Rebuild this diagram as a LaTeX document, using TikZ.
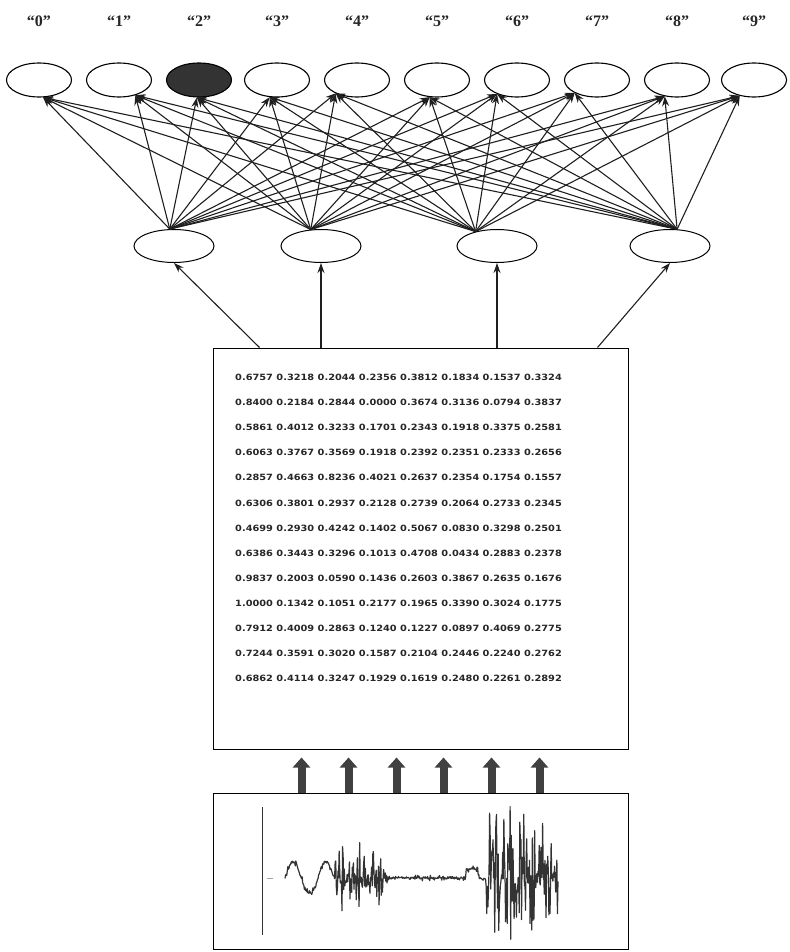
\documentclass[tikz,border=0pt]{standalone}
\usepackage{fontspec}
\usetikzlibrary{arrows.meta,shapes.geometric}
\newfontfamily\labfont{Liberation Serif}
\newfontfamily\numfont[FakeStretch=1.14]{DejaVu Sans}

\begin{document}
\begin{tikzpicture}[x=1pt,y=-1pt,
    label distance=32pt,
    every label/.style={font=\labfont\bfseries\fontsize{16}{19}\selectfont,text=black!85},
    outnode/.style={draw,ellipse,line width=1.1pt,inner sep=0pt,minimum width=65pt,minimum height=34pt},
    hidnode/.style={draw,ellipse,line width=1pt,inner sep=0pt,minimum width=80pt,minimum height=33pt},
    box/.style={draw,rectangle,line width=1pt,inner sep=0pt,minimum width=415pt},
    wire/.style={-{Stealth[length=10pt,width=7pt]},line width=1.1pt,black!88},
    fat/.style={-{Triangle[length=10pt,width=17pt]},line width=8pt,black!75,shorten >=8pt},
    numtab/.style={align=left,inner sep=0pt,font=\numfont\bfseries\fontsize{8.6}{25.1}\selectfont,text=black!85},
    declare function={
      env(\t)=(\t<335)*5+and(\t>335,\t<388)*40+and(\t>388,\t<468)*3+and(\t>468,\t<486)*5+(\t>486)*(84-0.7*abs(\t-505));
      slow(\t)=(\t<335)*(-16)*sin((\t-285)*11)+and(\t>466,\t<478)*(-9);
    }]
  \useasboundingbox (0,0) rectangle (789,952);

  \node[outnode,label=above:{“0”}] (O0) at (39,80) {};
  \node[outnode,label=above:{“1”}] (O1) at (119,80) {};
  \node[outnode,fill=black!80,label=above:{“2”}] (O2) at (199,80) {};
  \node[outnode,label=above:{“3”}] (O3) at (277,80) {};
  \node[outnode,label=above:{“4”}] (O4) at (357,80) {};
  \node[outnode,label=above:{“5”}] (O5) at (437,80) {};
  \node[outnode,label=above:{“6”}] (O6) at (517,80) {};
  \node[outnode,label=above:{“7”}] (O7) at (597,80) {};
  \node[outnode,label=above:{“8”}] (O8) at (677,80) {};
  \node[outnode,label=above:{“9”}] (O9) at (754,80) {};

  \node[hidnode] (H1) at (174,246) {};
  \node[hidnode] (H2) at (321,246) {};
  \node[hidnode] (H3) at (497,246) {};
  \node[hidnode] (H4) at (670,246) {};

  \node[box,minimum height=401pt] (Feat) at (420.5,548.5) {};
  \node[box,minimum height=156pt] (Wave) at (420.5,871) {};

  \node[numtab,anchor=north west] (Tab) at (235,374) {%
    0.6757 0.3218 0.2044 0.2356 0.3812 0.1834 0.1537 0.3324\\
    0.8400 0.2184 0.2844 0.0000 0.3674 0.3136 0.0794 0.3837\\
    0.5861 0.4012 0.3233 0.1701 0.2343 0.1918 0.3375 0.2581\\
    0.6063 0.3767 0.3569 0.1918 0.2392 0.2351 0.2333 0.2656\\
    0.2857 0.4663 0.8236 0.4021 0.2637 0.2354 0.1754 0.1557\\
    0.6306 0.3801 0.2937 0.2128 0.2739 0.2064 0.2733 0.2345\\
    0.4699 0.2930 0.4242 0.1402 0.5067 0.0830 0.3298 0.2501\\
    0.6386 0.3443 0.3296 0.1013 0.4708 0.0434 0.2883 0.2378\\
    0.9837 0.2003 0.0590 0.1436 0.2603 0.3867 0.2635 0.1676\\
    1.0000 0.1342 0.1051 0.2177 0.1965 0.3390 0.3024 0.1775\\
    0.7912 0.4009 0.2863 0.1240 0.1227 0.0897 0.4069 0.2775\\
    0.7244 0.3591 0.3020 0.1587 0.2104 0.2446 0.2240 0.2762\\
    0.6862 0.4114 0.3247 0.1929 0.1619 0.2480 0.2261 0.2892};

  \draw[wire] (H1.104)--(O0.283);
  \draw[wire] (H1.104)--(O1.317);
  \draw[wire] (H1.104)--(O2.263);
  \draw[wire] (H1.104)--(O3.247);
  \draw[wire] (H1.104)--(O4.212);
  \draw[wire] (H1.104)--(O5.247);
  \draw[wire] (H1.104)--(O6.215);
  \draw[wire] (H1.104)--(O7.210);
  \draw[wire] (H1.104)--(O8.233);
  \draw[wire] (H1.104)--(O9.228);
  \draw[wire] (H2.122)--(O0.283);
  \draw[wire] (H2.122)--(O1.317);
  \draw[wire] (H2.122)--(O2.263);
  \draw[wire] (H2.122)--(O3.247);
  \draw[wire] (H2.122)--(O4.212);
  \draw[wire] (H2.122)--(O5.247);
  \draw[wire] (H2.122)--(O6.215);
  \draw[wire] (H2.122)--(O7.210);
  \draw[wire] (H2.122)--(O8.233);
  \draw[wire] (H2.122)--(O9.228);
  \draw[wire] (H3.146)--(O0.283);
  \draw[wire] (H3.146)--(O1.317);
  \draw[wire] (H3.146)--(O2.263);
  \draw[wire] (H3.146)--(O3.247);
  \draw[wire] (H3.146)--(O4.212);
  \draw[wire] (H3.146)--(O5.247);
  \draw[wire] (H3.146)--(O6.215);
  \draw[wire] (H3.146)--(O7.210);
  \draw[wire] (H3.146)--(O8.233);
  \draw[wire] (H3.146)--(O9.228);
  \draw[wire] (H4.67)--(O0.283);
  \draw[wire] (H4.67)--(O1.317);
  \draw[wire] (H4.67)--(O2.263);
  \draw[wire] (H4.67)--(O3.247);
  \draw[wire] (H4.67)--(O4.212);
  \draw[wire] (H4.67)--(O5.247);
  \draw[wire] (H4.67)--(O6.215);
  \draw[wire] (H4.67)--(O7.210);
  \draw[wire] (H4.67)--(O8.233);
  \draw[wire] (H4.67)--(O9.228);

  \draw[wire] ([xshift=47pt]Feat.north west)--(H1.south);
  \draw[wire] (H2.south |- Feat.north)--(H2.south);
  \draw[wire] (H3.south |- Feat.north)--(H3.south);
  \draw[wire] ([xshift=385pt]Feat.north west)--(H4.south);

  \draw[fat] ([xshift=89pt]Wave.north west)--([xshift=89pt]Feat.south west);
  \draw[fat] ([xshift=136pt]Wave.north west)--([xshift=136pt]Feat.south west);
  \draw[fat] ([xshift=184pt]Wave.north west)--([xshift=184pt]Feat.south west);
  \draw[fat] ([xshift=231pt]Wave.north west)--([xshift=231pt]Feat.south west);
  \draw[fat] ([xshift=279pt]Wave.north west)--([xshift=279pt]Feat.south west);
  \draw[fat] ([xshift=327pt]Wave.north west)--([xshift=327pt]Feat.south west);

  \draw[black!80,line width=0.8pt] (262,807)--(262,935);
  \draw[black!35,line width=0.6pt] (267,878)--(273,878);
  \pgfmathsetseed{42}
  \draw[black!80,line width=1.2pt,line join=round]
    plot[domain=285:558,samples=480,variable=\t] (\t,{878+slow(\t)+env(\t)*rand*rnd});
\end{tikzpicture}
\end{document}
